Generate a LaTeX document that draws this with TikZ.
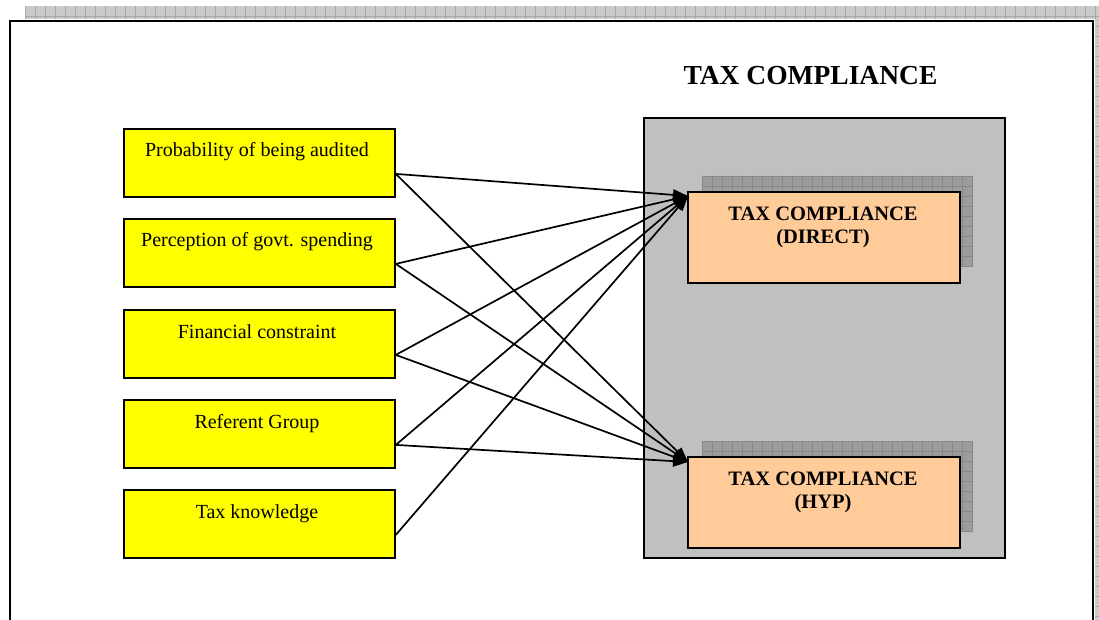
\documentclass[tikz,border=0pt]{standalone}
\usepackage{fontspec}
\setmainfont{Liberation Serif}
\usetikzlibrary{arrows.meta}
\definecolor{boxyellow}{HTML}{FFFF00}
\definecolor{boxpeach}{HTML}{FFCC99}
\definecolor{panelgrey}{HTML}{C0C0C0}
\definecolor{shadowgrey}{HTML}{9C9C9C}
\definecolor{shadowline}{HTML}{888888}
\definecolor{stripgrey}{HTML}{CACACA}
\definecolor{stripline}{HTML}{A8A8A8}
\begin{document}
\begin{tikzpicture}[x=1pt,y=-1pt,
  factor/.style={draw=black, line width=1.8pt, fill=boxyellow,
    minimum width=271pt, minimum height=68pt, inner sep=0pt, anchor=north west},
  factortext/.style={anchor=base, inner sep=0pt, font=\fontsize{20}{24}\selectfont},
  outcome/.style={draw=black, line width=1.8pt, fill=boxpeach,
    minimum width=272pt, minimum height=91pt, inner sep=0pt, anchor=north west},
  outcometext/.style={anchor=north, align=center, inner sep=0pt,
    font=\fontsize{20.5}{23}\selectfont\bfseries},
  shade/.style={fill=shadowgrey},
  shadegrid/.style={draw=shadowline, line width=0.5pt},
  link/.style={draw=black, line width=1.7pt, -{Triangle[length=15pt,width=11pt]}},
  strip/.style={fill=stripgrey},
  stripgrid/.style={draw=stripline, line width=0.6pt}]

\useasboundingbox (0,0) rectangle (1099,620);

% page edge strips
\fill[strip] (25,6) rectangle (1099,19);
\begin{scope}
  \clip (25,6) rectangle (1099,19);
  \foreach \gx in {25,35,...,1099} \draw[stripgrid] (\gx,6) -- (\gx,19);
  \draw[stripgrid] (25,16) -- (1099,16);
\end{scope}
\fill[strip] (1095,19) rectangle (1099,620);
\begin{scope}
  \clip (1095,19) rectangle (1099,620);
  \foreach \gy in {26,36,...,620} \draw[stripgrid] (1095,\gy) -- (1099,\gy);
\end{scope}

% outer frame
\draw[line width=2.2pt, line join=miter] (10,640) -- (10,21) -- (1093,21) -- (1093,640);

% title
\node[anchor=base, inner sep=0pt, font=\fontsize{27.5}{30}\selectfont\bfseries] (title) at (810.5,85) {TAX COMPLIANCE};

% grey panel
\node[draw=black, line width=1.8pt, fill=panelgrey, minimum width=361pt, minimum height=440pt,
  inner sep=0pt, anchor=north west] (panel) at (643,117) {};

% shadows of the outcome boxes
\foreach \sy in {176,441} {
  \fill[shade] (702,\sy) rectangle (973,\sy+91);
  \begin{scope}
    \clip (702,\sy) rectangle (973,\sy+91);
    \foreach \gx in {702,712,...,973} \draw[shadegrid] (\gx,\sy) -- (\gx,\sy+91);
    \foreach \gy in {0,10,...,91} \draw[shadegrid] (702,\sy+\gy) -- (973,\sy+\gy);
  \end{scope}
}

% outcome boxes
\node[outcome] (direct) at (687,191) {};
\node[outcometext] (directtext) at (823,206.5) {TAX COMPLIANCE\\(DIRECT)};
\node[outcome] (hyp) at (687,456) {};
\node[outcometext] (hyptext) at (823,471.5) {TAX COMPLIANCE\\(HYP)};

% factor boxes
\node[factor] (f1) at (123,128) {};
\node[factortext] (f1text) at (257,157) {Probability of being audited};
\node[factor] (f2) at (123,218) {};
\node[factortext] (f2text) at (257,247) {Perception of govt. spending};
\node[factor] (f3) at (123,309) {};
\node[factortext] (f3text) at (257,338) {Financial constraint};
\node[factor] (f4) at (123,399) {};
\node[factortext] (f4text) at (257,428) {Referent Group};
\node[factor] (f5) at (123,489) {};
\node[factortext] (f5text) at (257,518) {Tax knowledge};

% connector ends
\foreach \i in {1,...,5} \coordinate (o\i) at ([yshift=-11pt]f\i.east);
\coordinate (tdirect) at ([xshift=1pt,yshift=-5pt]direct.north west);
\coordinate (thyp) at ([xshift=1pt,yshift=-6pt]hyp.north west);

% connectors
\foreach \i in {1,...,5} \draw[link] (o\i) -- (tdirect);
\foreach \i in {1,...,4} \draw[link] (o\i) -- (thyp);

\end{tikzpicture}
\end{document}
